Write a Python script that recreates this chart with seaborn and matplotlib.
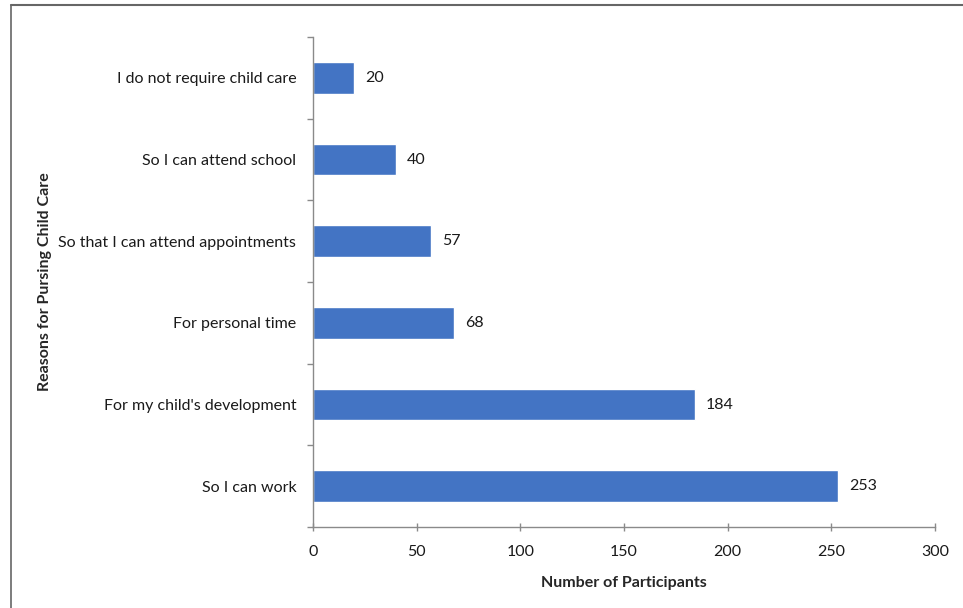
import numpy as np
import matplotlib
matplotlib.use('Agg')
import matplotlib.pyplot as plt
from matplotlib.lines import Line2D
import seaborn as sns
import pandas as pd

REASONS = ['I do not require child care', 'So I can attend school',
           'So that I can attend appointments', 'For personal time',
           "For my child's development", 'So I can work']
COUNTS = [20, 40, 57, 68, 184, 253]
X_TICKS = [0, 50, 100, 150, 200, 250, 300]

BAR_COLOR = '#4374C4'
AXIS_COLOR = '#8A8A8A'

sns.set_style('white')
plt.rcParams['font.family'] = ['Lato', 'DejaVu Sans']
plt.rcParams['font.size'] = 11.5

df = pd.DataFrame({'reason': REASONS, 'count': COUNTS})

fig = plt.figure(figsize=(9.63, 6.08), dpi=100)
ax = fig.add_axes([0.325, 0.1332, 0.646, 0.8058])

sns.barplot(data=df, y='reason', x='count', order=REASONS, orient='h',
            color=BAR_COLOR, width=0.39, saturation=1, ax=ax)
ax.bar_label(ax.containers[0], padding=8, fontsize=11.5, color='#1a1a1a')

ax.set_xlim(0, 300)
ax.set_ylim(len(REASONS) - 0.5, -0.5)
ax.set_xticks(X_TICKS)
ax.set_yticks(range(len(REASONS)))
ax.set_yticks(np.arange(-0.5, len(REASONS), 1.0), minor=True)
ax.tick_params(axis='y', which='major', length=0, pad=12, labelsize=11.5,
               colors='#1a1a1a')
ax.tick_params(axis='y', which='minor', left=True, length=4, width=1,
               color=AXIS_COLOR, direction='out')
ax.tick_params(axis='x', bottom=True, length=6, width=1, color=AXIS_COLOR,
               direction='inout', pad=10, labelsize=11.5, labelcolor='#1a1a1a')

for side in ['top', 'right']:
    ax.spines[side].set_visible(False)
for side in ['left', 'bottom']:
    ax.spines[side].set_color(AXIS_COLOR)
    ax.spines[side].set_linewidth(1)

ax.set_xlabel('Number of Participants', fontweight='bold', fontsize=11.5,
              labelpad=12)
ax.set_ylabel('Reasons for Pursing Child Care', fontweight='bold',
              fontsize=11.5, labelpad=10)
ax.yaxis.set_label_coords(-0.42, 0.5)

# scanned page frame
fig.add_artist(Line2D([11 / 963, 1], [1 - 5 / 608] * 2,
                      transform=fig.transFigure, color='#666666', lw=1.5))
fig.add_artist(Line2D([11 / 963] * 2, [0, 1 - 5 / 608],
                      transform=fig.transFigure, color='#666666', lw=1.2))

fig.savefig('out.png', dpi=100)
